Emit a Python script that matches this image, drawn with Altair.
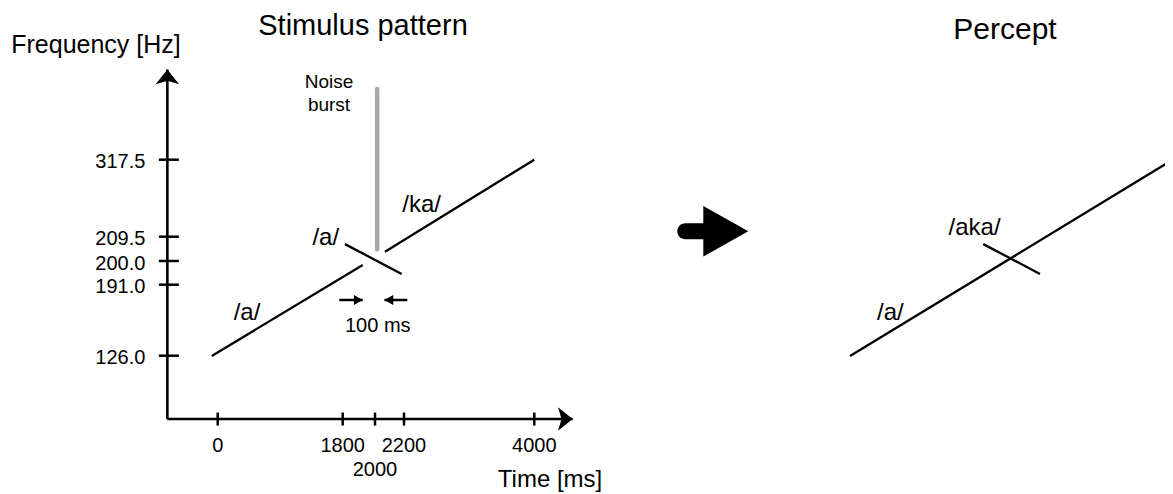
import altair as alt
import pandas as pd

FONT = "Liberation Sans"

# ---------------- values (time in ms, frequency in Hz) ----------------
T_TICKS = [0, 1800, 2000, 2200, 4000]
T_TICK_LABELS = ["0", "1800", "2000", "2200", "4000"]
T_LABEL_ROW = [0, 0, 1, 0, 0]
F_TICKS = [126.0, 191.0, 200.0, 209.5, 317.5]
F_TICK_LABELS = ["126.0", "191.0", "200.0", "209.5", "317.5"]

# frame of the hand-drawn axes: [origin, arrow tip]
AXIS_T = [-725, 4530]
AXIS_F = [68, 444]

# stimulus pattern: /a/ glide, /a/ transition, /ka/ glide
STIM_NAME = ["/a/", "/a/ transition", "/ka/"]
STIM_T0 = [-86, 1814, 2069]
STIM_T1 = [1924, 2184, 4000]
STIM_F0 = [125.7, 206.6, 203.6]
STIM_F1 = [198.5, 195.1, 317.5]

# noise burst
NOISE_T = [2015]
NOISE_F0 = [204.5]
NOISE_F1 = [416.6]

# 100 ms gap markers (tail -> tip)
GAP_TAIL = [1751, 2246]
GAP_TIP = [1924, 2065]
GAP_F = [177, 177]

# percept: one continuous glide crossed by the /a/ transition
PERC_T0 = [-86, 1814]
PERC_T1 = [4000, 2184]
PERC_F0 = [125.7, 206.6]
PERC_F1 = [317.5, 195.1]

# text labels
PHON_LABELS = ["/a/", "/a/", "/ka/"]
PHON_T = [422, 1556, 2444]
PHON_F = [165.1, 208.9, 254.0]
GAP_LABEL = ["100 ms"]
GAP_LABEL_T = [2019]
GAP_LABEL_F = [153.2]
NOISE_LABEL = ["Noise", "burst"]
NOISE_LABEL_T = [1603, 1603]
NOISE_LABEL_F = [426.9, 394.2]
PERC_LABELS = ["/aka/", "/a/"]
PERC_LABEL_T = [1707, 494]
PERC_LABEL_F = [221.3, 164.8]

# ---------------- scales (schematic, piecewise linear between the ticks) ----------------
XS = alt.Scale(domain=T_TICKS, range=[209.7, 334.7, 367.0, 396.0, 526.3], nice=False, zero=False)
YS = alt.Scale(domain=F_TICKS, range=[347.7, 276.7, 253.0, 228.7, 151.7], nice=False, zero=False)
PERCEPT_SHIFT = 638.3


def X(field="t"):
    return alt.X(f"{field}:Q", scale=XS, axis=None)


def Y(field="f"):
    return alt.Y(f"{field}:Q", scale=YS, axis=None)


BIG_HEAD = "M0,0L1,1.25L0,0.95L-1,1.25Z"
SMALL_HEAD = "M0,0L0.9,1.6L-0.9,1.6Z"
BLOCK_ARROW = "M-18,-8L0,-8L0,-25.3L45,0L0,25.3L0,8L-18,8A8,8,0,0,1,-18,-8Z"

# axes lines
axis_df = pd.DataFrame({
    "t": [AXIS_T[0], AXIS_T[0]], "t1": [AXIS_T[1], AXIS_T[0]],
    "f": [AXIS_F[0], AXIS_F[0]], "f1": [AXIS_F[0], AXIS_F[1]],
})
axes = alt.Chart(axis_df).mark_rule(color="black", strokeWidth=2.6).encode(
    x=X("t"), x2="t1:Q", y=Y("f"), y2="f1:Q")

head_df = pd.DataFrame({"t": [AXIS_T[0], AXIS_T[1]], "f": [AXIS_F[1], AXIS_F[0]], "ang": [0, 90]})
heads = alt.Chart(head_df).mark_point(shape=BIG_HEAD, size=548, filled=True, opacity=1,
                                      color="black", strokeWidth=0).encode(
    x=X(), y=Y(), angle=alt.Angle("ang:Q", scale=None))

# ticks and tick labels
ytick_df = pd.DataFrame({"t": [AXIS_T[0]] * len(F_TICKS), "f": F_TICKS, "lab": F_TICK_LABELS})
yticks = alt.Chart(ytick_df).mark_tick(orient="horizontal", size=20, thickness=2.5,
                                       color="black", opacity=1, xOffset=1.5).encode(x=X(), y=Y())
ylabels = alt.Chart(ytick_df).mark_text(align="right", baseline="middle", dx=-22, dy=2.5,
                                        fontSize=20, font=FONT, color="black").encode(
    x=X(), y=Y(), text="lab:N")

xtick_df = pd.DataFrame({"t": T_TICKS, "f": [AXIS_F[0]] * len(T_TICKS),
                         "lab": T_TICK_LABELS, "row": T_LABEL_ROW})
xticks = alt.Chart(xtick_df).mark_tick(orient="vertical", size=13, thickness=2.5,
                                       color="black", opacity=1).encode(x=X(), y=Y())
xlabels1 = alt.Chart(xtick_df).transform_filter("datum.row == 0").mark_text(
    align="center", baseline="middle", dy=27, fontSize=20, font=FONT, color="black").encode(
    x=X(), y=Y(), text="lab:N")
xlabels2 = alt.Chart(xtick_df).transform_filter("datum.row == 1").mark_text(
    align="center", baseline="middle", dy=51, fontSize=20, font=FONT, color="black").encode(
    x=X(), y=Y(), text="lab:N")

# stimulus glides
stim_df = pd.DataFrame({"name": STIM_NAME, "t": STIM_T0, "t1": STIM_T1, "f": STIM_F0, "f1": STIM_F1})
stim = alt.Chart(stim_df).mark_rule(color="black", strokeWidth=2.3).encode(
    x=X("t"), x2="t1:Q", y=Y("f"), y2="f1:Q")

noise_df = pd.DataFrame({"t": NOISE_T, "f": NOISE_F0, "f1": NOISE_F1})
noise = alt.Chart(noise_df).mark_rule(color="#a8a8a8", strokeWidth=4.5, strokeCap="round").encode(
    x=X("t"), y=Y("f"), y2="f1:Q")

gap_df = pd.DataFrame({"t": GAP_TAIL, "t1": GAP_TIP, "f": GAP_F, "ang": [90, 270]})
gap_shaft = alt.Chart(gap_df).mark_rule(color="black", strokeWidth=2.5).encode(
    x=X("t"), x2="t1:Q", y=Y("f"))
gap_heads = alt.Chart(gap_df).mark_point(shape=SMALL_HEAD, size=121, filled=True, opacity=1,
                                         color="black", strokeWidth=0).encode(
    x=X("t1"), y=Y("f"), angle=alt.Angle("ang:Q", scale=None))

phon_df = pd.DataFrame({"lab": PHON_LABELS, "t": PHON_T, "f": PHON_F})
phon = alt.Chart(phon_df).mark_text(align="center", baseline="middle", fontSize=24, font=FONT,
                                    color="black").encode(x=X(), y=Y(), text="lab:N")
gapl_df = pd.DataFrame({"lab": GAP_LABEL, "t": GAP_LABEL_T, "f": GAP_LABEL_F})
gapl = alt.Chart(gapl_df).mark_text(align="center", baseline="middle", fontSize=20, font=FONT,
                                    color="black").encode(x=X(), y=Y(), text="lab:N")
noisel_df = pd.DataFrame({"lab": NOISE_LABEL, "t": NOISE_LABEL_T, "f": NOISE_LABEL_F})
noisel = alt.Chart(noisel_df).mark_text(align="center", baseline="middle", fontSize=19, font=FONT,
                                        color="black").encode(x=X(), y=Y(), text="lab:N")

# percept panel (same coordinates, drawn to the right)
perc_df = pd.DataFrame({"t": PERC_T0, "t1": PERC_T1, "f": PERC_F0, "f1": PERC_F1})
perc = alt.Chart(perc_df).mark_rule(color="black", strokeWidth=2.3, xOffset=PERCEPT_SHIFT,
                                    x2Offset=PERCEPT_SHIFT).encode(
    x=X("t"), x2="t1:Q", y=Y("f"), y2="f1:Q")
percl_df = pd.DataFrame({"lab": PERC_LABELS, "t": PERC_LABEL_T, "f": PERC_LABEL_F})
percl = alt.Chart(percl_df).mark_text(align="center", baseline="middle", fontSize=24, font=FONT,
                                      color="black", dx=PERCEPT_SHIFT).encode(
    x=X(), y=Y(), text="lab:N")

# titles and the big arrow between the panels
title_df = pd.DataFrame({"lab": ["x"]})


def title_text(txt, x, y, size):
    return alt.Chart(title_df).mark_text(text=txt, align="center", baseline="alphabetic",
                                         fontSize=size, font=FONT, color="black").encode(
        x=alt.value(x), y=alt.value(y))


t_stim = title_text("Stimulus pattern", 355, 27, 29)
t_perc = title_text("Percept", 997, 31.3, 30)
t_freq = title_text("Frequency [Hz]", 88, 44.7, 25)
t_time = title_text("Time [ms]", 542, 479, 24)

big_arrow = alt.Chart(title_df).mark_point(shape=BLOCK_ARROW, size=4, filled=True, opacity=1,
                                           color="black", strokeWidth=0).encode(
    x=alt.value(695.3), y=alt.value(223.3))

chart = alt.layer(
    noise, axes, heads, yticks, ylabels, xticks, xlabels1, xlabels2,
    stim, gap_shaft, gap_heads, phon, gapl, noisel, perc, percl,
    t_stim, t_perc, t_freq, t_time, big_arrow,
).properties(
    width=1157, height=486, padding=0, autosize="none", background="white"
).configure_view(stroke=None)

chart.save("out.html", embed_options={"renderer": "svg", "actions": False})
